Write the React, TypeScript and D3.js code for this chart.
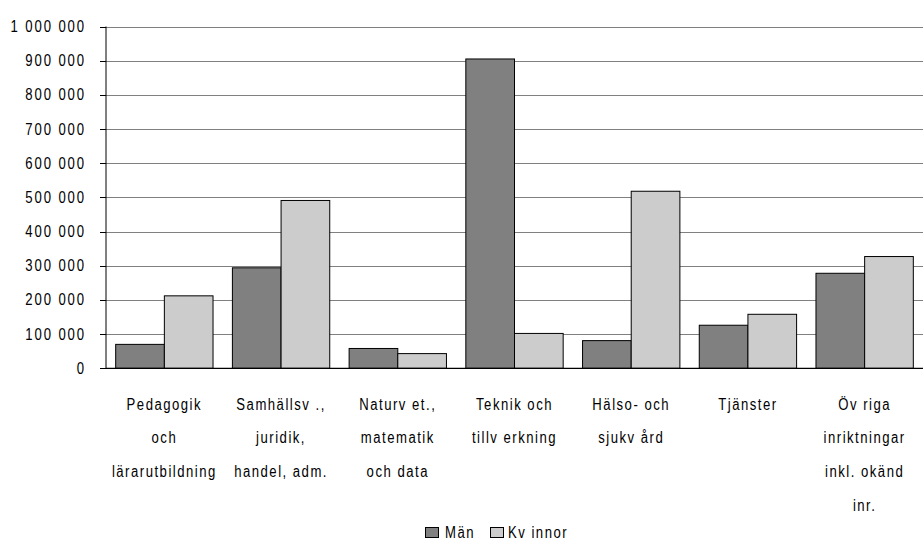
import React from "react";
import * as d3 from "d3";

const categories: string[][] = [
  ["Pedagogik", "och", "lärarutbildning"],
  ["Samhällsv .,", "juridik,", "handel, adm."],
  ["Naturv et.,", "matematik", "och data"],
  ["Teknik och", "tillv erkning"],
  ["Hälso- och", "sjukv ård"],
  ["Tjänster"],
  ["Öv riga", "inriktningar", "inkl. okänd", "inr."],
];
const man: number[] = [70000, 294000, 58000, 905000, 81000, 126000, 278000];
const kvinnor: number[] = [212000, 491000, 43000, 102000, 518000, 158000, 327000];
const yTicks: number[] = [0, 100000, 200000, 300000, 400000, 500000, 600000, 700000, 800000, 900000, 1000000];
const seriesNames: string[] = ["Män", "Kv innor"];
const seriesColors: string[] = ["#808080", "#cccccc"];

const W = 923;
const H = 542;
const FONT = "'Liberation Sans', Arial, sans-serif";
const SX = 0.82;

function NText(props: { x: number; y: number; anchor?: string; size: number; spacing: number; lines: string[]; lh?: number }) {
  const { x, y, anchor = "start", size, spacing, lines, lh = 0 } = props;
  return (
    <text transform={`translate(${x},${y}) scale(${SX},1)`} textAnchor={anchor} fontSize={size}
      letterSpacing={spacing / SX} fill="#000" fontFamily={FONT}>
      {lines.map((l, k) => (
        <tspan key={k} x={0} y={k * lh}>{l}</tspan>
      ))}
    </text>
  );
}

export default function App() {
  const left = 106;
  const right = 923;
  const top = 26.5;
  const bottom = 368.3;
  const idx = categories.map((_, i) => String(i));
  const x0 = d3.scaleBand<string>().domain(idx).range([left, right]).paddingInner(0.166).paddingOuter(0.083);
  const x1 = d3.scaleBand<string>().domain(["0", "1"]).range([0, x0.bandwidth()]);
  const y = d3.scaleLinear().domain([0, 1000000]).range([bottom, top]);
  const fmt = (v: number) => d3.format(",")(v).replace(/,/g, " ");
  const series = [man, kvinnor];

  return (
    <svg width={W} height={H} style={{ position: "absolute", left: 0, top: 0, background: "#fff" }}>
      <rect x={0} y={0} width={W} height={H} fill="#fff" />
      {yTicks.filter((t) => t > 0).map((t) => (
        <line key={"g" + t} x1={left} x2={right} y1={Math.round(y(t)) + 0.5} y2={Math.round(y(t)) + 0.5}
          stroke="#808080" strokeWidth={1.2} />
      ))}
      {yTicks.map((t) => (
        <g key={"t" + t}>
          <line x1={100} x2={left} y1={Math.round(y(t)) + 0.5} y2={Math.round(y(t)) + 0.5} stroke="#000" />
          <NText x={86} y={y(t) + 5.5} anchor="end" size={16} spacing={1.9} lines={[fmt(t)]} />
        </g>
      ))}
      {categories.map((_, i) =>
        series.map((s, j) => {
          const bx = (x0(String(i)) as number) + (x1(String(j)) as number);
          return (
            <rect key={i + "-" + j} x={bx} y={y(s[i])} width={x1.bandwidth()} height={bottom - y(s[i])}
              fill={seriesColors[j]} stroke="#000" strokeWidth={1} />
          );
        })
      )}
      <line x1={left} x2={left} y1={top} y2={bottom} stroke="#000" strokeWidth={1} />
      <line x1={left} x2={right} y1={bottom} y2={bottom} stroke="#000" strokeWidth={1.2} />
      {categories.map((lines, i) => {
        const cx = (x0(String(i)) as number) + x0.bandwidth() / 2;
        return <NText key={"c" + i} x={cx} y={409.5} anchor="middle" size={16} spacing={1.5} lines={lines} lh={33.7} />;
      })}
      <g>
        <rect x={425.5} y={527.5} width={13} height={10} fill={seriesColors[0]} stroke="#000" />
        <NText x={445} y={538} size={16} spacing={1.5} lines={[seriesNames[0]]} />
        <rect x={490.5} y={527.5} width={13} height={10} fill={seriesColors[1]} stroke="#000" />
        <NText x={508} y={538} size={16} spacing={1.5} lines={[seriesNames[1]]} />
      </g>
    </svg>
  );
}
